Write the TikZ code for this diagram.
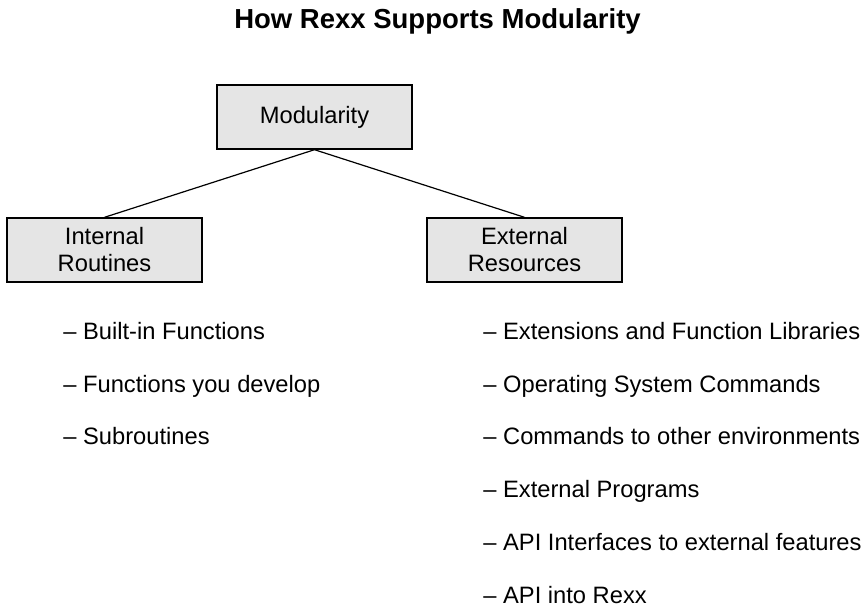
\documentclass[tikz,border=0pt]{standalone}
\usepackage{fontspec}
\setmainfont{Liberation Sans}
\definecolor{boxgray}{HTML}{E5E5E5}
\begin{document}
\begin{tikzpicture}[x=0.5pt, y=-0.5pt,
    topicbox/.style={draw, line width=0.7pt, fill=boxgray, minimum width=97.5pt, minimum height=32pt, inner sep=0pt, align=center, font=\fontsize{11.85pt}{13.5pt}\selectfont},
    listitem/.style={anchor=base west, inner sep=0pt, font=\fontsize{11.85pt}{13.5pt}\selectfont},
    branch/.style={line width=0.6pt}]
    \useasboundingbox (0, 0) rectangle (863, 607);
    \node[anchor=base, inner sep=0pt, font=\fontsize{13.75pt}{16pt}\selectfont\bfseries] (title) at (437.5, 28) {How Rexx Supports Modularity};
    % boxes
    \node[topicbox] (modularity) at (314.5, 117) {Modularity};
    \node[topicbox] (internal) at (104.5, 250) {Internal\\Routines};
    \node[topicbox] (external) at (524.5, 250) {External\\Resources};
    \draw[branch] (modularity.south) -- (internal.north);
    \draw[branch] (modularity.south) -- (external.north);
    % internal routines
    \node[listitem] (builtin) at (63, 339.5) {-- Built-in Functions};
    \node[listitem] (ownfuncs) at (63, 392.2) {-- Functions you develop};
    \node[listitem] (subroutines) at (63, 444.9) {-- Subroutines};
    % external resources
    \node[listitem] (extlibs) at (483, 339.5) {-- Extensions and Function Libraries};
    \node[listitem] (oscmds) at (483, 392.2) {-- Operating System Commands};
    \node[listitem] (envcmds) at (483, 444.9) {-- Commands to other environments};
    \node[listitem] (extprogs) at (483, 497.6) {-- External Programs};
    \node[listitem] (apiext) at (483, 550.3) {-- API Interfaces to external features};
    \node[listitem] (apirexx) at (483, 603) {-- API into Rexx};
\end{tikzpicture}
\end{document}
